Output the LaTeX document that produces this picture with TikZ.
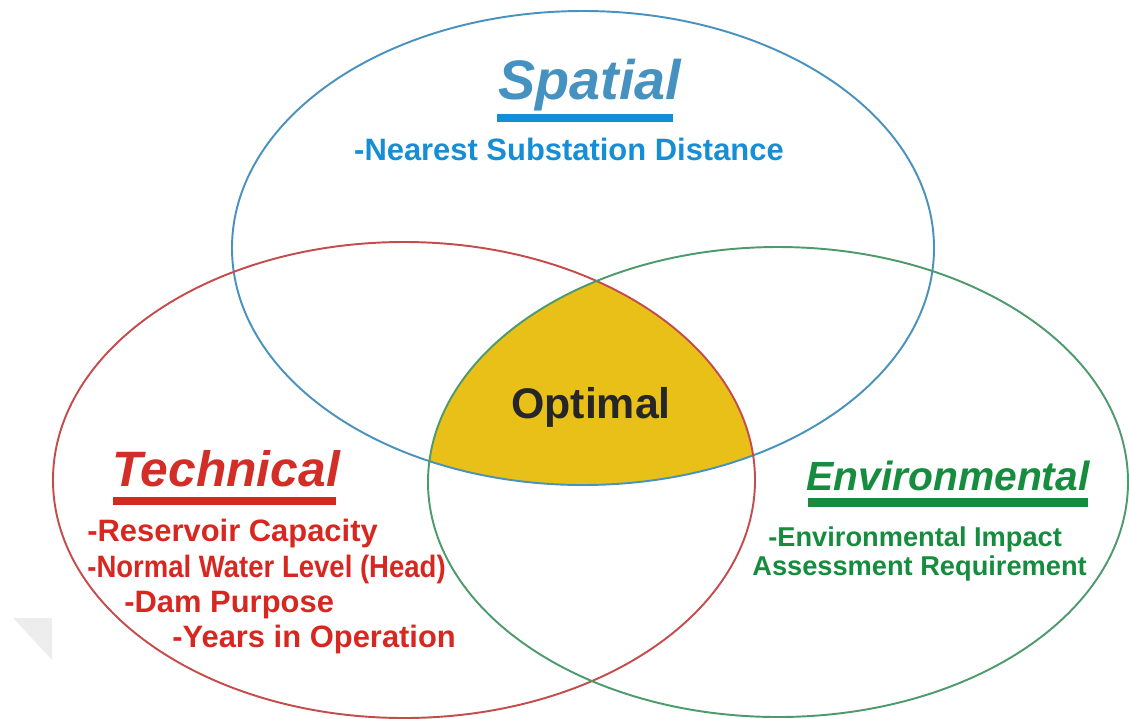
\documentclass[tikz,border=0pt]{standalone}
\usepackage{fontspec}
\setmainfont{Liberation Sans}
\definecolor{spblue}{RGB}{74,146,190}
\definecolor{sptext}{RGB}{22,142,214}
\definecolor{tcred}{RGB}{196,76,76}
\definecolor{tctext}{RGB}{214,40,32}
\definecolor{envgreen}{RGB}{78,154,108}
\definecolor{envtext}{RGB}{22,140,62}
\definecolor{optgold}{RGB}{232,192,24}
\newcommand{\fsz}[1]{\fontsize{#1}{1.2\dimexpr#1\relax}\selectfont\bfseries}
\begin{document}
\begin{tikzpicture}[x=0.02cm,y=-0.02cm,
  ring/.style={line width=1.1pt},
  title/.style={inner sep=0pt,font=\fsz{29pt}\itshape},
  item/.style={inner sep=0pt,anchor=base west,font=\fsz{17.6pt}}]
\useasboundingbox (0,0) rectangle (1129,718);
\fill[black!7] (13,618) -- (52,618) -- (52,660) -- cycle;
% optimal zone
\begin{scope}
  \clip (583,248) ellipse [x radius=351,y radius=237];
  \clip (404,480) ellipse [x radius=351,y radius=238];
  \fill[optgold] (778,482) ellipse [x radius=350,y radius=235];
\end{scope}
\draw[ring,spblue] (583,248) ellipse [x radius=351,y radius=237];
\draw[ring,tcred] (404,480) ellipse [x radius=351,y radius=238];
\draw[ring,envgreen] (778,482) ellipse [x radius=350,y radius=235];
% spatial
\node[title,anchor=base,text=spblue!90!sptext,font=\fsz{31.7pt}\itshape] (spatial) at (590,99) {Spatial};
\fill[sptext] (497,114) rectangle (673,122);
\node[inner sep=0pt,anchor=base,text=sptext,font=\fsz{17.6pt}] (nearest) at (569,160) {-Nearest Substation Distance};
\node[inner sep=0pt,anchor=base,text=black!85,font=\fsz{24.4pt}] (optimal) at (591,418) {Optimal};
% technical
\node[title,anchor=base west,text=tctext!85!tcred,font=\fsz{28.3pt}\itshape] (technical) at (112,486) {Technical};
\fill[tctext] (113,497) rectangle (336,505);
\node[item,text=tctext] (capacity) at (87,541) {-Reservoir Capacity};
\node[item,text=tctext] (level) at (87,577) {\scalebox{0.89}[1]{-Normal Water Level (Head)}};
\node[item,text=tctext] (purpose) at (124,612) {-Dam Purpose};
\node[item,text=tctext] (years) at (172,647) {-Years in Operation};
% environmental
\node[title,anchor=base west,text=envtext,font=\fsz{23.2pt}\itshape] (environmental) at (806,490) {Environmental};
\fill[envtext] (808,498) rectangle (1088,507);
\node[item,text=envtext,font=\fsz{15.5pt}] (impact) at (768,546) {-Environmental Impact};
\node[item,text=envtext,font=\fsz{15.5pt}] (assessment) at (752,575) {Assessment Requirement};
\end{tikzpicture}
\end{document}
